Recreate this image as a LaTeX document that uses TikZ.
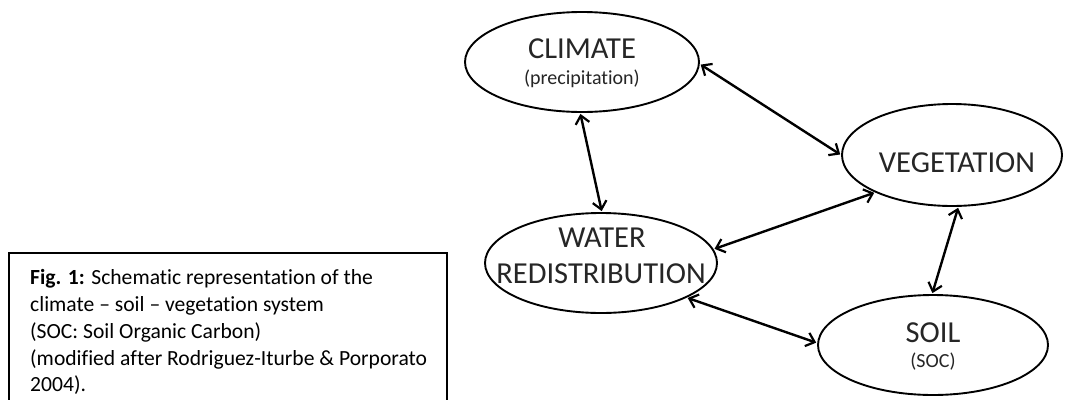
\documentclass[tikz,border=0pt]{standalone}
\usepackage{fontspec}
\setmainfont[Ligatures=NoCommon]{Carlito}
\usetikzlibrary{shapes.geometric,arrows.meta}
\begin{document}
\begin{tikzpicture}[x=1pt,y=-1pt,
  ell/.style={draw, ellipse, line width=1.9pt, inner sep=0pt, fill=white},
  big/.style={font=\fontsize{30.5}{34}\selectfont, inner sep=0pt, anchor=base, text=black!85},
  small/.style={font=\fontsize{20}{24}\selectfont, inner sep=0pt, anchor=base, text=black!85},
  capline/.style={font=\fontsize{21.6}{26.7}\selectfont, inner sep=0pt, anchor=base west},
  link/.style={{Straight Barb[length=8pt,width=14pt,line width=2.2pt]}-{Straight Barb[length=8pt,width=14pt,line width=2.2pt]}, line width=2.4pt, shorten <=1pt, shorten >=1pt}
]
\path[use as bounding box] (0,0) rectangle (1065,399);
\clip (0,0) rectangle (1065,399);
\fill[white] (0,0) rectangle (1065,399);

% ellipses
\node (clim) [ell, minimum width=234pt, minimum height=100pt] at (582,62) {};
\node (veg)  [ell, minimum width=220pt, minimum height=102pt] at (952,155) {};
\node (wat)  [ell, minimum width=232pt, minimum height=100pt] at (601,263) {};
\node (soil) [ell, minimum width=230pt, minimum height=100pt] at (933,345) {};

% labels
\node (climt) [big] at (582,58) {CLIMATE};
\node (climp) [small] at (582,84) {(precipitation)};
\node (vegt) [big] at (957,172) {VEGETATION};
\node (watt1) [big] at (602,247) {WATER};
\node (watt2) [big] at (601,283) {REDISTRIBUTION};
\node (soilt) [big] at (933,342) {SOIL};
\node (soilp) [small] at (933,367) {(SOC)};

% connectors
\draw[link] (clim.-92) -- (wat.89);
\draw[link] (clim.-1) -- (veg.180);
\draw[link] (wat.7) -- (veg.-154);
\draw[link] (wat.-22) -- (soil.179);
\draw[link] (veg.-83) -- (soil.91);

% caption
\node (capbox) [draw, line width=1.6pt, minimum width=438pt, minimum height=170pt, anchor=north west, inner sep=0pt] at (8,252) {};
\node (c1) [capline] at (30,284) {\textbf{Fig. 1:} Schematic representation of the};
\node (c2) [capline] at (30,311) {climate – soil – vegetation system};
\node (c3) [capline] at (30,338) {(SOC: Soil Organic Carbon)};
\node (c4) [capline] at (30,365) {(modified after Rodriguez-Iturbe \& Porporato};
\node (c5) [capline] at (30,391) {2004).};
\end{tikzpicture}
\end{document}
